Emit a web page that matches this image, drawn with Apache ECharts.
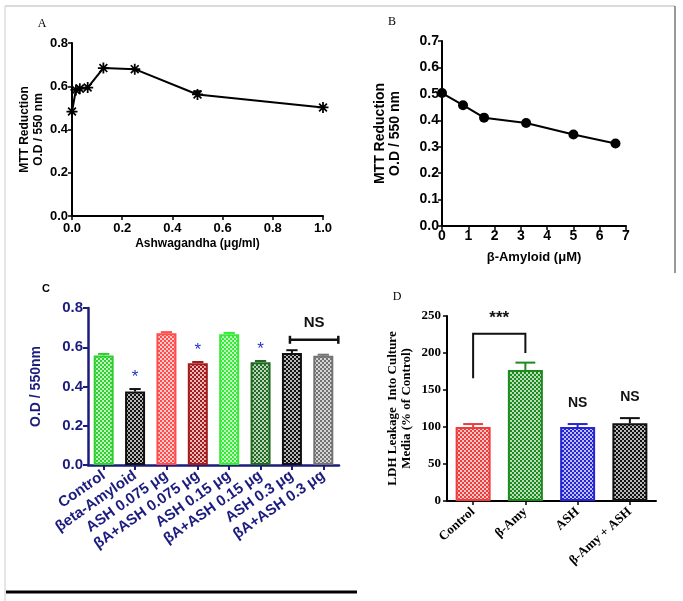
<!DOCTYPE html>
<html><head><meta charset="utf-8">
<script src="https://cdn.jsdelivr.net/npm/echarts@6/dist/echarts.min.js"></script>
<style>html,body{margin:0;padding:0;background:#fff}#c{width:683px;height:601px}</style>
</head><body><div id="c"></div>
<script>
// ---- Panel A : MTT vs Ashwagandha ----
const aDose = [0, 0.0156, 0.03125, 0.0625, 0.125, 0.25, 0.5, 1.0];
const aMTT  = [0.483, 0.583, 0.589, 0.594, 0.684, 0.679, 0.562, 0.502];
const aErr  = [0, 0, 0, 0, 0, 0, 0.015, 0];
// ---- Panel B : MTT vs beta-Amyloid ----
const bConc = [0, 0.8, 1.6, 3.2, 5.0, 6.6];
const bMTT  = [0.503, 0.457, 0.41, 0.39, 0.346, 0.312];
// ---- Panel C : O.D bars ----
const cCats = ['Control','βeta-Amyloid','ASH 0.075 μg','βA+ASH 0.075 μg','ASH 0.15 μg','βA+ASH 0.15 μg','ASH 0.3 μg','βA+ASH 0.3 μg'];
const cOD   = [0.558, 0.374, 0.671, 0.519, 0.666, 0.524, 0.571, 0.557];
const cErr  = [0.008, 0.013, 0.006, 0.006, 0.007, 0.006, 0.014, 0.005];
const cSig  = ['', '*', '', '*', '', '*', '', ''];
const cNS   = [[6, 7, 0.638, 'NS']];
// ---- Panel D : LDH leakage bars ----
const dCats = ['Control','β-Amy','ASH','β-Amy + ASH'];
const dLDH  = [100, 177, 100, 105];
const dErr  = [4, 10, 4, 7];
const dSig  = ['', '', 'NS', 'NS'];
const dBracket = [[0, 1, 166, 226, 200, '***']];

// ---- styling ----
const SANS = 'Liberation Sans, Arial, sans-serif';
const SERIF = 'Liberation Serif, Times New Roman, serif';
const NAVY = '#1c1c7e';
const cColors = ['#2fcf2f', '#111111', '#ff4d4d', '#a51a1a', '#38ea38', '#216b21', '#111111', '#727272'];
const dColors = ['#ee3d3d', '#1c8a1c', '#2626d6', '#111111'];

function mix(hex, t) {
  const n = parseInt(hex.slice(1), 16);
  const r = (n >> 16) & 255, g = (n >> 8) & 255, b = n & 255;
  const f = c => Math.round(c + (255 - c) * t);
  return 'rgb(' + f(r) + ',' + f(g) + ',' + f(b) + ')';
}
function checker(col) {
  const cv = document.createElement('canvas');
  cv.width = 4; cv.height = 4;
  const ctx = cv.getContext('2d');
  ctx.fillStyle = mix(col, 0.7); ctx.fillRect(0, 0, 4, 4);
  ctx.fillStyle = col; ctx.fillRect(0, 0, 2, 2); ctx.fillRect(2, 2, 2, 2);
  return { image: cv, repeat: 'repeat' };
}
const asterisk = 'path://M-0.8,-5L0.8,-5L0.8,5L-0.8,5Z M-5,-0.8L5,-0.8L5,0.8L-5,0.8Z M-4.1,-3L-3,-4.1L4.1,3L3,4.1Z M3,-4.1L4.1,-3L-3,4.1L-4.1,3Z';

function blackAxis(extra) {
  return Object.assign({
    axisLine: { show: true, onZero: false, lineStyle: { color: '#000', width: 2 } },
    axisTick: { show: true, length: 4, lineStyle: { color: '#000', width: 1.5 } },
    splitLine: { show: false }
  }, extra);
}

function errRender(colors, capHalf, fixedHalf) {
  return function (params, api) {
    const x = api.value(0), y = api.value(1), e = api.value(2);
    if (!e) return null;
    const p0 = api.coord([x, y]), p1 = api.coord([x, y + e]);
    const half = fixedHalf || api.size([1, 0])[0] * capHalf;
    const col = colors[params.dataIndex % colors.length];
    return { type: 'group', children: [
      { type: 'line', shape: { x1: p0[0], y1: p0[1], x2: p1[0], y2: p1[1] }, style: { stroke: col, lineWidth: 2 } },
      { type: 'line', shape: { x1: p1[0] - half, y1: p1[1], x2: p1[0] + half, y2: p1[1] }, style: { stroke: col, lineWidth: 2 } }
    ]};
  };
}

const chart = echarts.init(document.getElementById('c'), null, { renderer: 'canvas' });
const option = {
  animation: false,
  backgroundColor: '#fff',
  grid: [
    { left: 72, top: 43, width: 251, height: 173, outerBoundsMode: 'none' },
    { left: 442, top: 41, width: 184, height: 185, outerBoundsMode: 'none' },
    { left: 88, top: 308, width: 251, height: 157, outerBoundsMode: 'none' },
    { left: 447, top: 316, width: 209, height: 185, outerBoundsMode: 'none' }
  ],
  xAxis: [
    blackAxis({ gridIndex: 0, type: 'value', min: 0, max: 1, interval: 0.2,
      axisLabel: { color: '#000', fontWeight: 'bold', fontSize: 13, fontFamily: SANS, margin: 6, formatter: v => v.toFixed(1) },
      name: 'Ashwagandha (μg/ml)', nameLocation: 'middle', nameGap: 22,
      nameTextStyle: { color: '#000', fontWeight: 'bold', fontSize: 12, fontFamily: SANS } }),
    blackAxis({ gridIndex: 1, type: 'value', min: 0, max: 7, interval: 1,
      axisLabel: { color: '#000', fontWeight: 'bold', fontSize: 14, fontFamily: SANS, margin: 3 },
      name: 'β-Amyloid (μM)', nameLocation: 'middle', nameGap: 25,
      nameTextStyle: { color: '#000', fontWeight: 'bold', fontSize: 13, fontFamily: SANS } }),
    { gridIndex: 2, type: 'category', data: cCats,
      axisLine: { show: true, lineStyle: { color: NAVY, width: 2.5 } },
      axisTick: { show: true, alignWithLabel: true, length: 5, lineStyle: { color: NAVY, width: 2 } },
      axisLabel: { color: NAVY, fontWeight: 'bold', fontSize: 15, fontFamily: SANS, rotate: 35, margin: 9, interval: 0 } },
    { gridIndex: 3, type: 'category', data: dCats,
      axisLine: { show: true, lineStyle: { color: '#000', width: 2 } },
      axisTick: { show: true, alignWithLabel: true, length: 4, lineStyle: { color: '#000', width: 1.5 } },
      axisLabel: { color: '#000', fontWeight: 'bold', fontSize: 13, fontFamily: SERIF, rotate: 42, margin: 9, interval: 0 } }
  ],
  yAxis: [
    blackAxis({ gridIndex: 0, type: 'value', min: 0, max: 0.8, interval: 0.2,
      axisLabel: { color: '#000', fontWeight: 'bold', fontSize: 13, fontFamily: SANS, margin: 4, formatter: v => v.toFixed(1) },
      name: 'MTT Reduction\nO.D / 550 nm', nameLocation: 'middle', nameGap: 26, nameRotate: 90,
      nameTextStyle: { color: '#000', fontWeight: 'bold', fontSize: 12, fontFamily: SANS, lineHeight: 14 } }),
    blackAxis({ gridIndex: 1, type: 'value', min: 0, max: 0.7, interval: 0.1,
      axisLabel: { color: '#000', fontWeight: 'bold', fontSize: 14, fontFamily: SANS, margin: 3, formatter: v => v.toFixed(1) },
      name: 'MTT Reduction\nO.D / 550 nm', nameLocation: 'middle', nameGap: 39, nameRotate: 90,
      nameTextStyle: { color: '#000', fontWeight: 'bold', fontSize: 14, fontFamily: SANS, lineHeight: 15 } }),
    { gridIndex: 2, type: 'value', min: 0, max: 0.8, interval: 0.2,
      axisLine: { show: true, lineStyle: { color: NAVY, width: 2.5 } },
      axisTick: { show: true, length: 5, lineStyle: { color: NAVY, width: 2 } },
      splitLine: { show: false },
      axisLabel: { color: NAVY, fontWeight: 'bold', fontSize: 15, fontFamily: SANS, margin: 5, formatter: v => v.toFixed(1) },
      name: 'O.D / 550nm', nameLocation: 'middle', nameGap: 45, nameRotate: 90,
      nameTextStyle: { color: NAVY, fontWeight: 'bold', fontSize: 14, fontFamily: SANS } },
    { gridIndex: 3, type: 'value', min: 0, max: 250, interval: 50,
      axisLine: { show: true, lineStyle: { color: '#000', width: 2 } },
      axisTick: { show: true, length: 4, lineStyle: { color: '#000', width: 1.5 } },
      splitLine: { show: false },
      axisLabel: { color: '#000', fontWeight: 'bold', fontSize: 13, fontFamily: SERIF, margin: 6 },
      name: 'LDH Leakage  Into Culture\nMedia (% of Control)', nameLocation: 'middle', nameGap: 33, nameRotate: 90,
      nameTextStyle: { color: '#000', fontWeight: 'bold', fontSize: 13, fontFamily: SERIF, lineHeight: 14 } }
  ],
  series: [
    { type: 'line', xAxisIndex: 0, yAxisIndex: 0, data: aDose.map((d, i) => [d, aMTT[i]]),
      symbol: asterisk, symbolSize: 11, lineStyle: { color: '#000', width: 2 }, itemStyle: { color: '#000' } },
    { type: 'custom', xAxisIndex: 0, yAxisIndex: 0, data: aDose.map((d, i) => [d, aMTT[i], aErr[i]]),
      renderItem: errRender(['#000'], 0, 4), z: 3 },
    { type: 'line', xAxisIndex: 1, yAxisIndex: 1, data: bConc.map((d, i) => [d, bMTT[i]]),
      symbol: 'circle', symbolSize: 10, lineStyle: { color: '#000', width: 2 }, itemStyle: { color: '#000' } },
    // Panel C bars
    { type: 'bar', xAxisIndex: 2, yAxisIndex: 2, barWidth: 20,
      data: cOD.map((v, i) => ({ value: v, itemStyle: { color: checker(cColors[i]), borderColor: cColors[i], borderWidth: 2 } })) },
    { type: 'custom', xAxisIndex: 2, yAxisIndex: 2, data: cOD.map((v, i) => [i, v, cErr[i]]),
      renderItem: errRender(cColors, 0.18), z: 3 },
    { type: 'custom', xAxisIndex: 2, yAxisIndex: 2, data: cOD.map((v, i) => [i, v + cErr[i], cSig[i]]),
      renderItem: function (params, api) {
        const txt = cSig[params.dataIndex];
        if (!txt) return null;
        const p = api.coord([api.value(0), api.value(1)]);
        return { type: 'text', x: p[0], y: p[1] - 12, style: { text: txt, fill: '#2233cc', font: '17px ' + SANS, align: 'center', verticalAlign: 'middle' } };
      }, z: 4 },
    { type: 'custom', xAxisIndex: 2, yAxisIndex: 2, data: cNS,
      renderItem: function (params, api) {
        const a = api.coord([api.value(0), api.value(2)]);
        const b = api.coord([api.value(1), api.value(2)]);
        const x1 = a[0] - 2, x2 = b[0] + 15, y = a[1];
        const s = { stroke: '#111', lineWidth: 2.5 };
        return { type: 'group', children: [
          { type: 'line', shape: { x1: x1, y1: y, x2: x2, y2: y }, style: s },
          { type: 'line', shape: { x1: x1, y1: y - 4, x2: x1, y2: y + 4 }, style: s },
          { type: 'line', shape: { x1: x2, y1: y - 4, x2: x2, y2: y + 4 }, style: s },
          { type: 'text', x: (x1 + x2) / 2, y: y - 17, style: { text: cNS[0][3], fill: '#111', font: 'bold 15px ' + SANS, align: 'center', verticalAlign: 'middle' } }
        ]};
      }, z: 4 },
    // Panel D bars
    { type: 'bar', xAxisIndex: 3, yAxisIndex: 3, barWidth: 35,
      data: dLDH.map((v, i) => ({ value: v, itemStyle: { color: checker(dColors[i]), borderColor: dColors[i], borderWidth: 2 } })) },
    { type: 'custom', xAxisIndex: 3, yAxisIndex: 3, data: dLDH.map((v, i) => [i, v, dErr[i]]),
      renderItem: errRender(dColors, 0.19), z: 3 },
    { type: 'custom', xAxisIndex: 3, yAxisIndex: 3, data: dLDH.map((v, i) => [i, v + dErr[i]]),
      renderItem: function (params, api) {
        const txt = dSig[params.dataIndex];
        if (!txt) return null;
        const p = api.coord([api.value(0), api.value(1)]);
        return { type: 'text', x: p[0], y: p[1] - 21, style: { text: txt, fill: '#111', font: 'bold 14px ' + SANS, align: 'center', verticalAlign: 'middle' } };
      }, z: 4 },
    { type: 'custom', xAxisIndex: 3, yAxisIndex: 3, data: dBracket,
      renderItem: function (params, api) {
        const l0 = api.coord([api.value(0), api.value(2)]);
        const lt = api.coord([api.value(0), api.value(3)]);
        const rt = api.coord([api.value(1), api.value(3)]);
        const r0 = api.coord([api.value(1), api.value(4)]);
        return { type: 'group', children: [
          { type: 'polyline', shape: { points: [l0, lt, rt, r0] }, style: { stroke: '#111', lineWidth: 2, fill: null } },
          { type: 'text', x: (lt[0] + rt[0]) / 2, y: lt[1] - 15, style: { text: dBracket[0][5], fill: '#111', font: 'bold 17px ' + SANS, align: 'center', verticalAlign: 'middle' } }
        ]};
      }, z: 4 }
  ],
  graphic: [
    { type: 'line', shape: { x1: 5, y1: 6, x2: 675, y2: 6 }, style: { stroke: '#cfcfcf', lineWidth: 1.5 } },
    { type: 'line', shape: { x1: 5, y1: 6, x2: 5, y2: 601 }, style: { stroke: '#dcdcdc', lineWidth: 1.5 } },
    { type: 'line', shape: { x1: 675, y1: 6, x2: 675, y2: 273 }, style: { stroke: '#555', lineWidth: 1.2 } },
    { type: 'line', shape: { x1: 6, y1: 592, x2: 357, y2: 592 }, style: { stroke: '#000', lineWidth: 3 } },
    { type: 'text', x: 42, y: 24, style: { text: 'A', fill: '#000', font: '12px ' + SERIF, align: 'center', verticalAlign: 'middle' } },
    { type: 'text', x: 392, y: 22, style: { text: 'B', fill: '#000', font: '12px ' + SERIF, align: 'center', verticalAlign: 'middle' } },
    { type: 'text', x: 46, y: 289, style: { text: 'C', fill: '#000', font: 'bold 11px ' + SANS, align: 'center', verticalAlign: 'middle' } },
    { type: 'text', x: 397, y: 297, style: { text: 'D', fill: '#000', font: '12px ' + SERIF, align: 'center', verticalAlign: 'middle' } }
  ]
};
chart.setOption(option);
</script>
</body></html>
